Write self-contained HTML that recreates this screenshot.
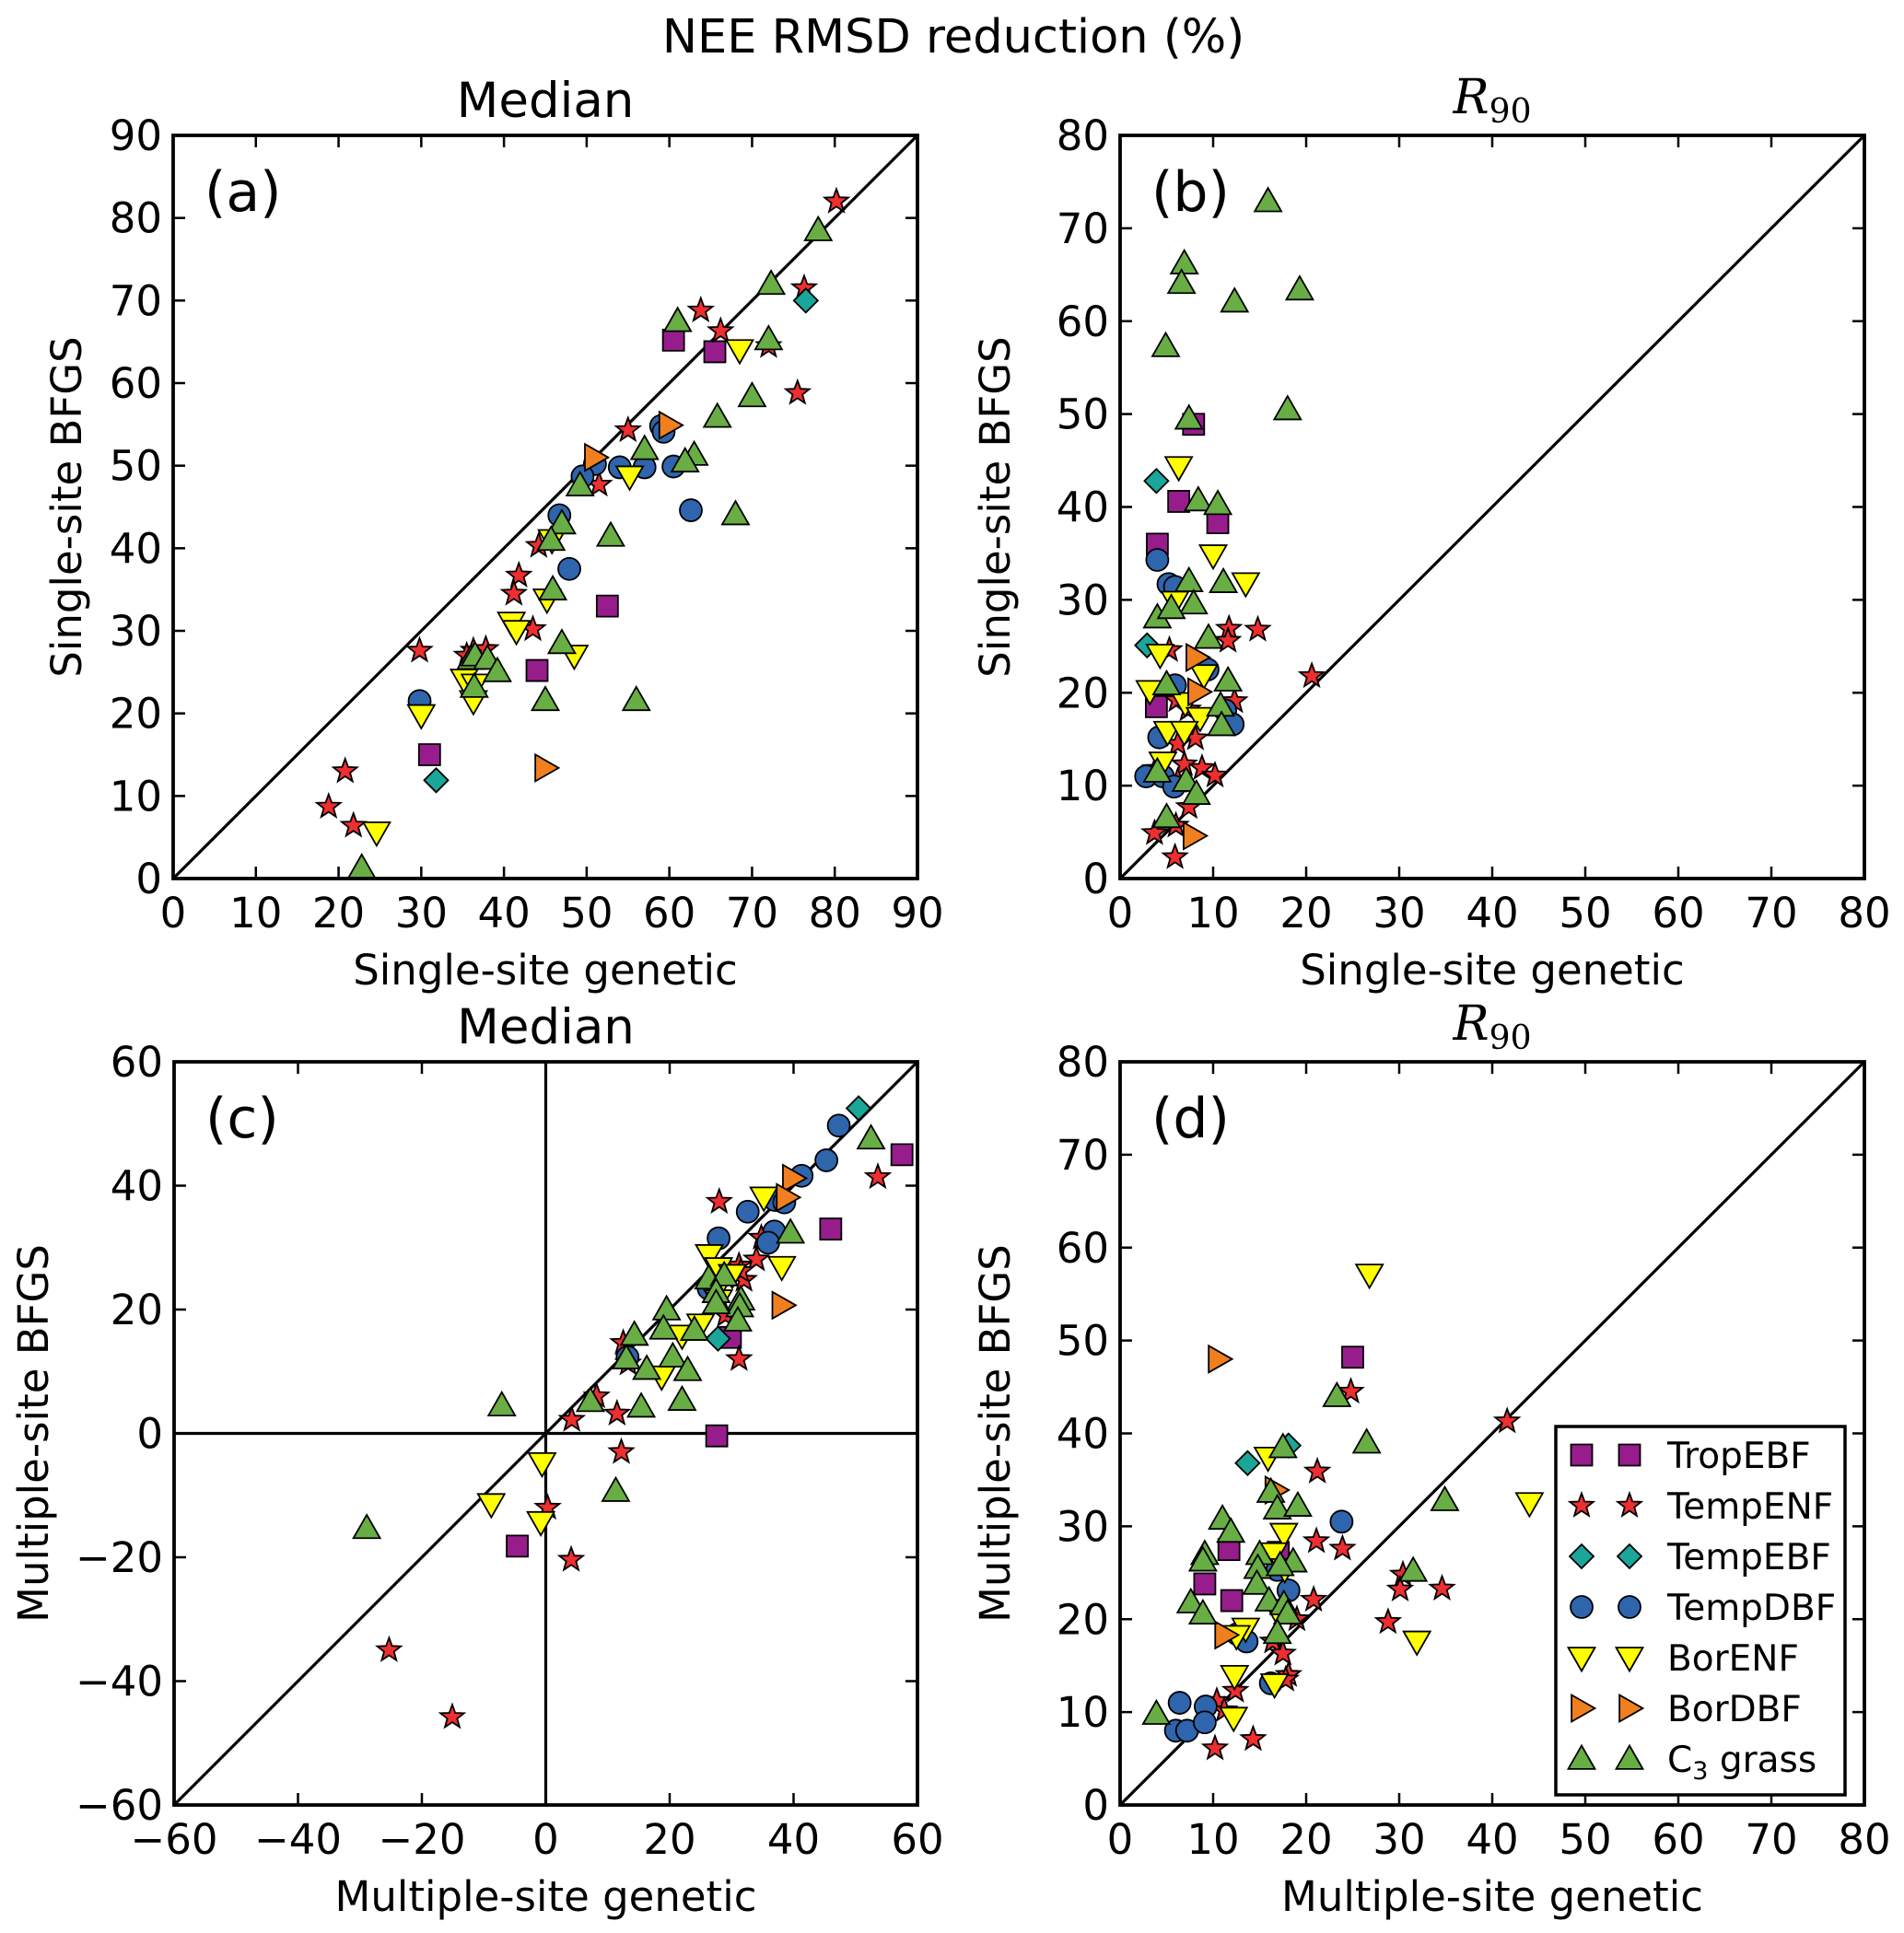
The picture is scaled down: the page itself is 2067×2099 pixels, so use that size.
<!DOCTYPE html>
<html><head><meta charset="utf-8">
<style>
html,body{margin:0;padding:0;background:#fff;}
svg{display:block;font-family:"DejaVu Sans","Liberation Sans",sans-serif;}
</style></head>
<body>
<svg id="fig" width="2067" height="2099" viewBox="0 0 2067 2099" xmlns="http://www.w3.org/2000/svg">
<rect width="2067" height="2099" fill="#fff"/>
<text x="1035" y="57" font-size="51" text-anchor="middle">NEE RMSD reduction (%)</text>
</svg>
<script>
// ---- data arrays (x, y pairs per category) ----
const categories = ["TropEBF","TempENF","TempEBF","TempDBF","BorENF","BorDBF","C3 grass"];

const aTropEBF=[[60.5,65.2],[65.5,63.8],[52.5,33],[44,25.2],[31,15]];
const aTempENF=[[80.2,82],[76.3,71.5],[63.8,68.8],[66.2,66.3],[72,64.5],[75.5,58.8],[55,54.3],[51.5,47.7],[44.2,40.3],[41.8,36.7],[41.2,34.5],[43.5,30.2],[29.8,27.6],[36.3,27.6],[37.8,27.8],[35.5,27],[20.8,13],[18.8,8.7],[21.8,6.4]];
const aTempEBF=[[76.5,70],[31.8,11.9]];
const aTempDBF=[[59,54.8],[59.3,54.1],[51,50.2],[49.5,48.7],[54,49.8],[57,49.8],[60.5,49.9],[62.6,44.6],[46.7,44],[47.9,37.5],[29.8,21.5]];
const aBorENF=[[68.5,64],[55.2,48.7],[45.8,41],[45.2,33.8],[40.9,31],[41.5,30],[48.5,27],[35.2,24.1],[36.5,23.5],[36.3,21.5],[30,19.8],[24.6,5.6]];
const aBorDBF=[[60,54.9],[51,51],[45,13.4]];
const aC3=[[78,78.5],[72.3,72],[72,65.3],[61,67.5],[70,58.4],[65.8,55.9],[57,52],[63,51.3],[61.9,50.5],[49.2,47.6],[47,43],[68,44.1],[52.9,41.5],[45.7,41],[45.9,35],[47,28.5],[36,26.6],[36.5,27],[38,26.6],[39.2,25.1],[36.4,23.2],[45,21.6],[56,21.6],[22.8,1.3]];

const bTropEBF=[[7.9,48.9],[6.3,40.6],[10.5,38.3],[4.0,36],[3.9,18.5]];
const bTempENF=[[11.7,26.9],[11.6,25.6],[14.8,26.8],[20.6,21.8],[5.3,24.6],[6.1,19.2],[12.3,19.1],[7.3,18.2],[8.1,15.1],[6.2,14.5],[6.9,12.3],[8.8,11.9],[10.2,11.1],[3.8,11.8],[7.4,7.7],[3.7,4.9],[6.0,5.7],[5.9,2.3],[6.2,10.5]];
const bTempEBF=[[3.9,42.8],[2.9,25.1]];
const bTempDBF=[[4.0,34.3],[5.2,31.7],[5.9,31.4],[9.4,22.5],[5.9,20.8],[11.3,18.1],[12.1,16.6],[4.2,15.2],[2.8,11],[4.6,11],[5.8,9.9]];
const bBorENF=[[6.3,44.3],[10.0,34.8],[13.5,31.8],[5.9,29.8],[4.3,24.1],[9.0,21.9],[3.2,20.2],[7.0,18.9],[8.6,17.3],[5.1,15.8],[6.9,15.8],[4.6,12.5]];
const bBorDBF=[[8.2,23.8],[8.4,20.1],[7.9,4.6]];
const bC3=[[15.9,72.9],[6.9,66.2],[6.6,64.1],[12.3,62.1],[19.3,63.4],[4.9,57.3],[18.0,50.5],[7.4,49.5],[8.4,40.7],[10.5,40.3],[7.4,32],[11.1,31.9],[7.9,29.6],[4.0,28.1],[5.5,29.1],[9.5,25.9],[5.0,20.9],[11.6,21.3],[10.8,18.6],[10.9,16.5],[4.0,11.5],[7.1,10.5],[8.2,9.1],[5.0,6.6]];

const cTropEBF=[[57.5,45],[46,33],[29.8,15.5],[27.6,-0.4],[-4.6,-18.2]];
const cTempENF=[[53.6,41.4],[28,37.4],[34.8,31.6],[34,28.1],[31.2,27.1],[32,24.8],[31.5,26.2],[29,19.1],[31.2,12],[12.5,14.6],[13.3,11.3],[8.2,6],[11.5,3.2],[4.2,2.2],[12.2,-3],[0.3,-12],[4.1,-20.4],[-25.3,-35],[-15.1,-45.8]];
const cTempEBF=[[50.5,52.5],[27.8,15.3]];
const cTempDBF=[[47.3,49.7],[45.3,44.1],[41.3,41.6],[37,37.7],[38.5,37.3],[32.6,35.8],[27.9,31.5],[36.9,32.6],[35.9,30.8],[26.3,23.4],[13.2,12.3]];
const cBorENF=[[35.2,38.1],[26.4,28.8],[27.9,26.7],[30.1,25.6],[38.1,26.9],[27.2,22.5],[27.9,21.5],[25,17.6],[22,15.8],[18.7,9.2],[-0.6,-4.8],[-8.8,-11.4],[-0.8,-14.3]];
const cBorDBF=[[39.9,41.2],[38.9,38.1],[38.2,20.7]];
const cC3=[[52.5,47.6],[39.5,32.4],[26.3,25],[28.8,25.5],[27.5,22.8],[31.5,21.6],[31.3,20.5],[31,18.2],[27.5,21],[19.5,20],[19,16.9],[24,16.7],[14.3,15.9],[13,12.1],[20.5,12.4],[16.3,10.4],[22.9,10.2],[7.2,5.2],[15.4,4.3],[22,5.4],[-7.1,4.5],[11.3,-9.3],[-28.9,-15.3]];

const dTropEBF=[[25.0,48.2],[11.7,27.5],[17.0,27.2],[9.1,23.8],[12.0,22]];
const dTempENF=[[41.6,41.3],[24.8,44.5],[21.2,35.9],[21.1,28.4],[23.9,27.6],[30.4,24.8],[30.1,23.2],[34.6,23.3],[20.8,22.1],[28.8,19.7],[19,20],[16.4,17.6],[17.5,16.3],[18.1,14],[17.8,13.5],[12.4,12.3],[10.4,11.2],[11.2,10.2],[10.2,6.1],[14.3,7.1]];
const dTempEBF=[[13.7,36.8],[18.1,38.7]];
const dTempDBF=[[23.8,30.5],[18.1,23.1],[16.9,25.3],[12.6,18.4],[13.6,17.6],[16.2,13.1],[6.4,11],[9.2,10.6],[6,8],[7.2,8],[9.1,8.9]];
const dBorENF=[[26.8,57.1],[15.9,37.4],[44,32.5],[17.6,29.2],[16.5,27.1],[16.8,21],[13.5,19],[12.5,18.2],[31.9,17.6],[12.3,13.9],[16.6,13],[12.2,9.4],[17.7,25.4]];
const dBorDBF=[[10.6,48],[16.7,33.9],[11.3,18.3]];
const dC3=[[23.3,44],[26.5,39],[17.5,38.5],[16.2,33.7],[16.9,31.9],[11,30.8],[19.1,32.2],[11.9,29.4],[9.1,27],[8.9,26.3],[15,27],[14.8,25.5],[18.6,26.2],[17.2,25.8],[14.7,23.8],[16,22],[17.6,21.6],[18,20.6],[7.6,21.8],[8.9,20.6],[16.9,18.5],[31.5,25.2],[34.9,32.8],[3.9,9.8]];

const ticksA=[0,10,20,30,40,50,60,70,80,90];
const ticksB=[0,10,20,30,40,50,60,70,80];
const ticksC=[-60,-40,-20,0,20,40,60];

// ---- rendering ----
const NS="http://www.w3.org/2000/svg";
const svg=document.getElementById('fig');
const styles={
 "TropEBF":{m:"square",c:"#981d8c"},
 "TempENF":{m:"star",c:"#ee2e2f"},
 "TempEBF":{m:"diamond",c:"#1aa699"},
 "TempDBF":{m:"circle",c:"#2e65ad"},
 "BorENF":{m:"tridown",c:"#ffff00"},
 "BorDBF":{m:"triright",c:"#f07f20"},
 "C3 grass":{m:"triup",c:"#69ad45"}
};
function el(tag,attrs,parent){const e=document.createElementNS(NS,tag);for(const k in attrs)e.setAttribute(k,attrs[k]);(parent||svg).appendChild(e);return e;}
function markerPath(m,x,y){
 let s;
 if(m==="square"){s=11.5;return `M${x-s},${y-s}H${x+s}V${y+s}H${x-s}Z`;}
 if(m==="diamond"){s=13;return `M${x},${y-s}L${x+s},${y}L${x},${y+s}L${x-s},${y}Z`;}
 if(m==="triup"){s=14.5;return `M${x},${y-s}L${x+s},${y+s*0.75}L${x-s},${y+s*0.75}Z`;}
 if(m==="tridown"){s=14.5;return `M${x},${y+s}L${x+s},${y-s*0.75}L${x-s},${y-s*0.75}Z`;}
 if(m==="triright"){s=14.5;return `M${x+s},${y}L${x-s*0.75},${y+s}L${x-s*0.75},${y-s}Z`;}
 if(m==="star"){let p="";const R=13.5,r=5.6;for(let i=0;i<10;i++){const a=-Math.PI/2+i*Math.PI/5;const rr=i%2?r:R;p+=(i?"L":"M")+(x+rr*Math.cos(a)).toFixed(1)+","+(y+rr*Math.sin(a)).toFixed(1);}return p+"Z";}
 return "";
}
function drawMarker(cat,x,y,g){
 const st=styles[cat];
 if(st.m==="circle"){return el('circle',{cx:x,cy:y,r:12,fill:st.c,stroke:"#000","stroke-width":1.8},g);}
 return el('path',{d:markerPath(st.m,x,y),fill:st.c,stroke:"#000","stroke-width":1.8,"stroke-linejoin":"miter"},g);
}
function panel(o){
 const g=el('g',{});
 
 
 const sx=v=>o.x0+(v-o.min)/(o.max-o.min)*(o.x1-o.x0);
 const sy=v=>o.y1-(v-o.min)/(o.max-o.min)*(o.y1-o.y0);
 o.ticks.forEach(t=>{
  const X=sx(t),Y=sy(t);
  el('line',{x1:X,y1:o.y1,x2:X,y2:o.y1-13,stroke:"#000","stroke-width":2.5},g);
  el('line',{x1:X,y1:o.y0,x2:X,y2:o.y0+13,stroke:"#000","stroke-width":2.5},g);
  el('line',{x1:o.x0,y1:Y,x2:o.x0+13,y2:Y,stroke:"#000","stroke-width":2.5},g);
  el('line',{x1:o.x1,y1:Y,x2:o.x1-13,y2:Y,stroke:"#000","stroke-width":2.5},g);
  const lab=t<0?"\u2212"+(-t):String(t);
  const tx=el('text',{x:X,y:o.y1+53,"font-size":45,"text-anchor":"middle"},g);tx.textContent=lab;
  
  
  const ty=el('text',{x:o.x0-12,y:Y+16,"font-size":45,"text-anchor":"end"},g);ty.textContent=lab;
  
  
 });
 const dl=el('line',{x1:sx(o.min),y1:sy(o.min),x2:sx(o.max),y2:sy(o.max),stroke:"#000","stroke-width":3.2},g);
 
 
 if(o.zero){
  el('line',{x1:sx(0),y1:o.y0,x2:sx(0),y2:o.y1,stroke:"#000","stroke-width":3.2},g);
  el('line',{x1:o.x0,y1:sy(0),x2:o.x1,y2:sy(0),stroke:"#000","stroke-width":3.2},g);
 }
 o.series.forEach(([cat,arr])=>{
  arr.forEach(p=>{
   const m=drawMarker(cat,sx(p[0]),sy(p[1]),g);
   
   
  });
 });
 const fr=el('rect',{x:o.x0,y:o.y0,width:o.x1-o.x0,height:o.y1-o.y0,fill:"none",stroke:"#000","stroke-width":3.8},g);
 
 
 const pl=el('text',{x:o.x0+34,y:o.y0+82,"font-size":60},g);pl.textContent="("+o.id+")";
 
 
 const cx=(o.x0+o.x1)/2, cy=(o.y0+o.y1)/2;
 const xl=el('text',{x:cx,y:o.y1+115,"font-size":45,"text-anchor":"middle"},g);xl.textContent=o.xlabel;
 
 
 const yl=el('text',{x:o.ylx,y:cy,"font-size":45,"text-anchor":"middle",transform:`rotate(-90 ${o.ylx} ${cy})`},g);yl.textContent=o.ylabel;
 
 
 let tt;
 if(o.title==="R90"){
  tt=el('text',{x:cx,y:o.y0-24,"font-size":52,"text-anchor":"middle","font-family":"DejaVu Serif, Liberation Serif, serif"},g);
  tt.innerHTML='<tspan font-style="italic">R</tspan><tspan font-size="36" dy="10">90</tspan>';
 } else {
  tt=el('text',{x:cx,y:o.y0-20,"font-size":53,"text-anchor":"middle"},g);tt.textContent=o.title;
 }
 
 
}
panel({id:"a",x0:188,x1:996,y0:147,y1:954,min:0,max:90,ticks:ticksA,title:"Median",xlabel:"Single-site genetic",ylabel:"Single-site BFGS",ylx:88,
 series:[["TropEBF",aTropEBF],["TempENF",aTempENF],["TempEBF",aTempEBF],["TempDBF",aTempDBF],["BorENF",aBorENF],["BorDBF",aBorDBF],["C3 grass",aC3]]});
panel({id:"b",x0:1216,x1:2024,y0:147,y1:954,min:0,max:80,ticks:ticksB,title:"R90",xlabel:"Single-site genetic",ylabel:"Single-site BFGS",ylx:1096,
 series:[["TropEBF",bTropEBF],["TempENF",bTempENF],["TempEBF",bTempEBF],["TempDBF",bTempDBF],["BorENF",bBorENF],["BorDBF",bBorDBF],["C3 grass",bC3]]});
panel({id:"c",x0:189,x1:996,y0:1153,y1:1960,min:-60,max:60,ticks:ticksC,zero:true,title:"Median",xlabel:"Multiple-site genetic",ylabel:"Multiple-site BFGS",ylx:52,
 series:[["TropEBF",cTropEBF],["TempENF",cTempENF],["TempEBF",cTempEBF],["TempDBF",cTempDBF],["BorENF",cBorENF],["BorDBF",cBorDBF],["C3 grass",cC3]]});
panel({id:"d",x0:1216,x1:2024,y0:1153,y1:1960,min:0,max:80,ticks:ticksB,title:"R90",xlabel:"Multiple-site genetic",ylabel:"Multiple-site BFGS",ylx:1096,
 series:[["TropEBF",dTropEBF],["TempENF",dTempENF],["TempEBF",dTempEBF],["TempDBF",dTempDBF],["BorENF",dBorENF],["BorDBF",dBorDBF],["C3 grass",dC3]]});

const lg=el('g',{});


el('rect',{x:1689,y:1549,width:314,height:400,fill:"#fff",stroke:"#000","stroke-width":3.5},lg);
categories.forEach((cat,i)=>{
 const y=1580+i*55;
 const e=el('g',{},lg);
 
 
 drawMarker(cat,1717,y,e);drawMarker(cat,1769,y,e);
 const t=el('text',{x:1810,y:y+14,"font-size":39},e);
 if(cat==="C3 grass") t.innerHTML='C<tspan font-size="27" dy="8">3</tspan><tspan dy="-8"> grass</tspan>';
 else t.textContent=cat;
});
</script>
</body></html>
